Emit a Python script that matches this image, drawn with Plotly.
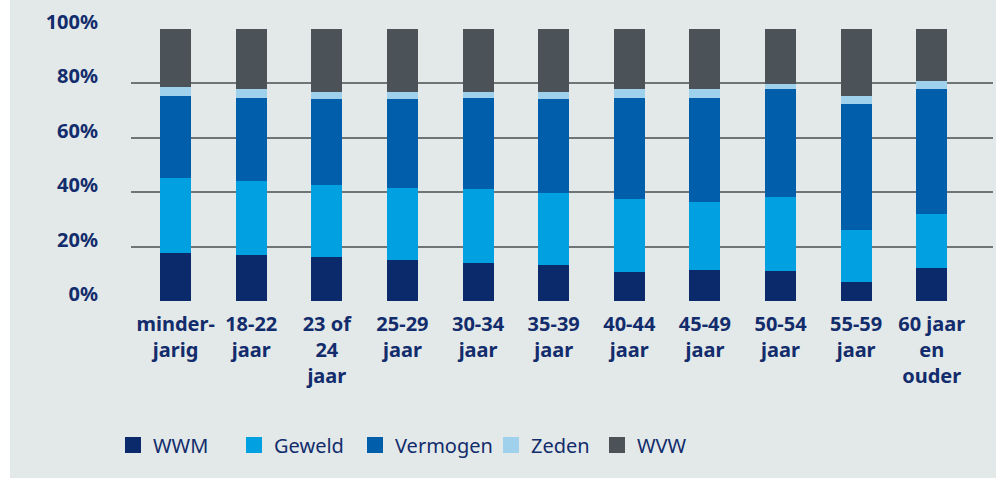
import plotly.graph_objects as go

categories = ["minder-<br>jarig", "18-22<br>jaar", "23 of<br>24<br>jaar", "25-29<br>jaar", "30-34<br>jaar",
              "35-39<br>jaar", "40-44<br>jaar", "45-49<br>jaar", "50-54<br>jaar", "55-59<br>jaar",
              "60 jaar<br>en<br>ouder"]

# cumulative tops (percent)
wwm_top = [17.8, 17.0, 16.3, 15.2, 14.1, 13.4, 10.8, 11.5, 11.1, 7.1, 12.3]
geweld_top = [45.4, 44.3, 42.8, 41.7, 41.3, 39.8, 37.6, 36.5, 38.4, 26.2, 32.1]
vermogen_top = [75.2, 74.8, 74.1, 74.4, 74.8, 74.4, 74.8, 74.8, 78.1, 72.6, 77.8]
zeden_top = [78.8, 77.8, 76.7, 77.0, 77.0, 77.0, 77.8, 77.8, 79.9, 75.2, 81.0]

wwm = wwm_top
geweld = [round(g - w, 1) for g, w in zip(geweld_top, wwm_top)]
vermogen = [round(v - g, 1) for v, g in zip(vermogen_top, geweld_top)]
zeden = [round(z - v, 1) for z, v in zip(zeden_top, vermogen_top)]
wvw = [round(100 - z, 1) for z in zeden_top]

series_names = ["WWM", "Geweld", "Vermogen", "Zeden", "WVW"]
series_values = [wwm, geweld, vermogen, zeden, wvw]
colors = ["#0b2a6b", "#00a0e1", "#005eaa", "#9fd0ec", "#4b5358"]

y_ticks = [0, 20, 40, 60, 80, 100]
y_labels = ["0%", "20%", "40%", "60%", "80%", "100%"]

W, H = 996, 478
ML, MR, MT, MB = 131, 3, 29, 177
PW = W - ML - MR
PH = H - MT - MB
TEXT = "#122c6c"
BG = "#e3e9e9"
FONT = "Noto Sans"

def px_x(p):
    return (p - ML) / PW

def px_y(p):
    return (H - MB - p) / PH

fig = go.Figure()
x_idx = list(range(len(categories)))
for name, vals, col in zip(series_names, series_values, colors):
    fig.add_trace(go.Bar(x=x_idx, y=vals, name=name, marker=dict(color=col, line=dict(width=0)),
                         showlegend=False))

legend_centers = [138, 259, 380, 516, 622]
layout_legends = {}
for i, (name, col, cx) in enumerate(zip(series_names, colors, legend_centers)):
    key = "legend" if i == 0 else f"legend{i+1}"
    fig.add_trace(go.Scatter(x=[None], y=[None], mode="markers", name=name,
                             marker=dict(symbol="square", size=16, color=col),
                             legend=key, showlegend=True))
    layout_legends[key] = dict(x=px_x(cx - 25), xanchor="left", y=px_y(445), yanchor="middle",
                               bgcolor="rgba(0,0,0,0)", itemsizing="trace",
                               font=dict(family=FONT, size=20, color=TEXT))

fig.update_layout(
    width=W, height=H,
    margin=dict(l=ML, r=MR, t=MT, b=MB, pad=0),
    paper_bgcolor=BG, plot_bgcolor=BG,
    barmode="stack", bargap=0.59,
    font=dict(family=FONT, color=TEXT),
    xaxis=dict(tickmode="array", tickvals=x_idx, ticktext=categories,
               range=[-0.59, 10.81], showgrid=False, zeroline=False, showline=False,
               ticks="", ticklabelstandoff=9,
               tickfont=dict(family=FONT, size=20, color=TEXT, weight="bold")),
    yaxis=dict(range=[0, 100], tickmode="array", tickvals=y_ticks, ticktext=y_labels,
               showgrid=True, gridcolor="#6f7577", gridwidth=1.5, zeroline=False, showline=False,
               ticks="", ticklabelstandoff=32, ticklabelshift=-7,
               tickfont=dict(family=FONT, size=20, color=TEXT, weight="bold")),
    shapes=[dict(type="rect", xref="paper", yref="paper", x0=px_x(0), x1=px_x(10),
                 y0=px_y(H), y1=px_y(0), fillcolor="white", line=dict(width=0), layer="above")],
    **layout_legends,
)

fig.write_html("out.html", config={"displayModeBar": False},
               post_script="document.body.style.margin='0';document.body.style.overflow='hidden';")
